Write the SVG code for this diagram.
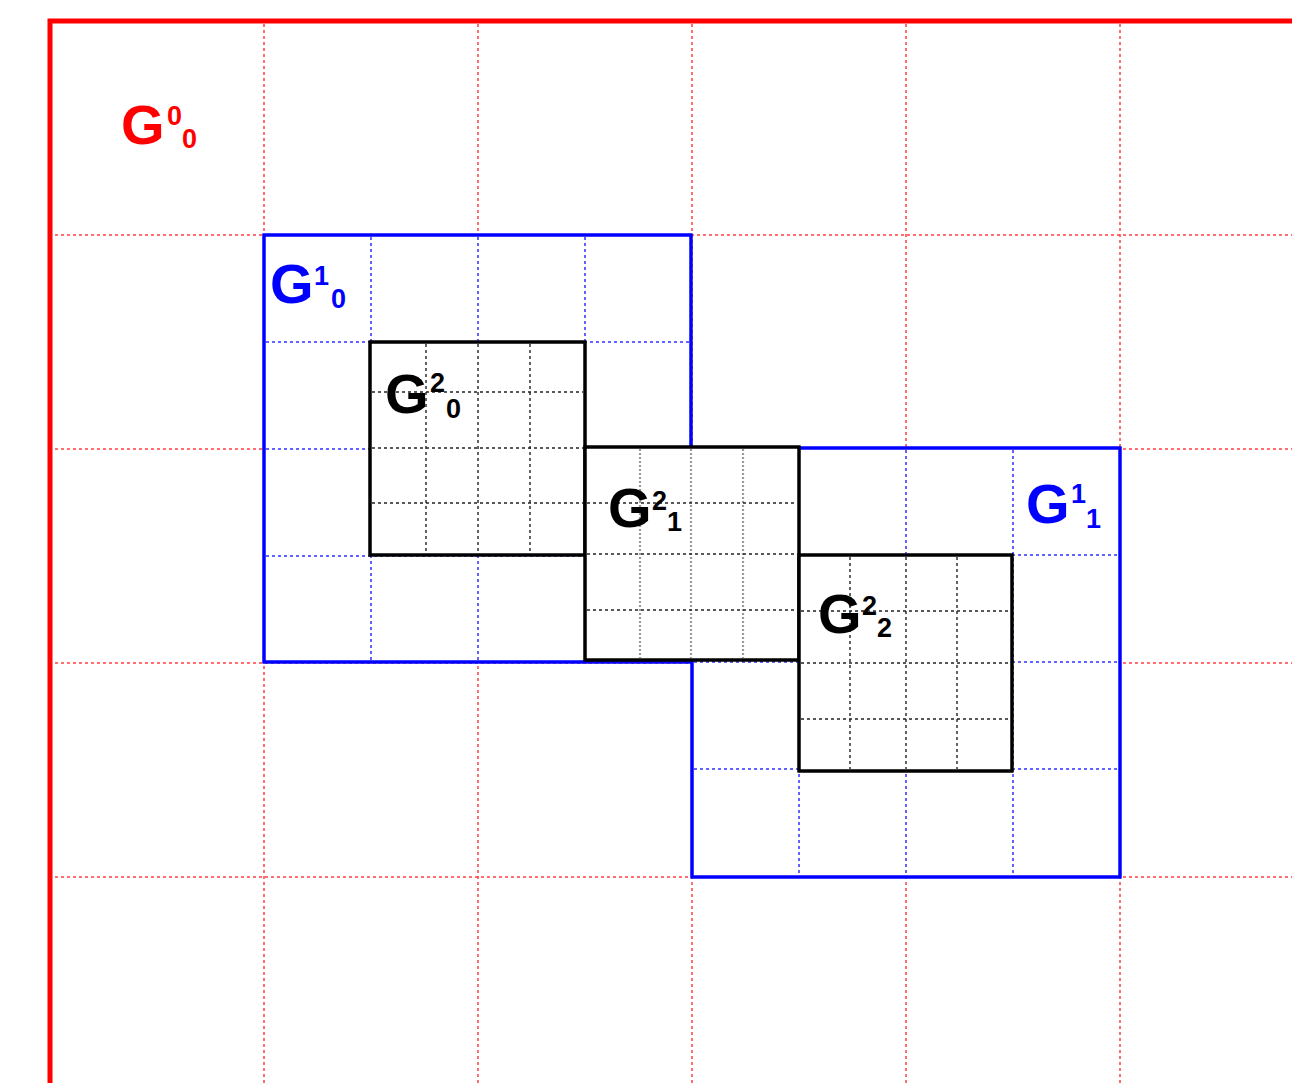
<svg xmlns="http://www.w3.org/2000/svg" width="1292" height="1083" viewBox="0 0 1292 1083">
<style>
.rg{stroke:#ff4040;stroke-width:1.5;stroke-dasharray:3 3;fill:none}
.bg{stroke:#3030ff;stroke-width:1.5;stroke-dasharray:3 3;fill:none}
.kg{stroke:#222;stroke-width:1.4;stroke-dasharray:3 3;fill:none}
.kg2{stroke:#999;stroke-width:2.2;stroke-dasharray:2 2;fill:none}
.b1{stroke:#0000ff;stroke-width:3;fill:#fff}
.k2{stroke:#000;stroke-width:3;fill:#fff}
.G{font-family:"Liberation Sans",Arial,sans-serif;font-weight:bold;font-size:56px}
.s{font-family:"Liberation Sans",Arial,sans-serif;font-weight:bold;font-size:27px}
.red{fill:#ff0000}.blue{fill:#0000ff}.blk{fill:#000}
</style>
<rect width="1292" height="1083" fill="#fff"/>
<g id="G0_0">
<g class="rg">
<line x1="264" y1="24" x2="264" y2="1083"/>
<line x1="478" y1="24" x2="478" y2="1083"/>
<line x1="692" y1="24" x2="692" y2="1083"/>
<line x1="906" y1="24" x2="906" y2="1083"/>
<line x1="1120" y1="24" x2="1120" y2="1083"/>
<line x1="55" y1="235" x2="1292" y2="235"/>
<line x1="55" y1="449" x2="1292" y2="449"/>
<line x1="55" y1="663" x2="1292" y2="663"/>
<line x1="55" y1="877" x2="1292" y2="877"/>
</g>
<path d="M50,1083 V21 H1292" stroke="#ff0000" stroke-width="5" fill="none"/>
<text class="G red" x="121" y="144">G</text>
<text class="s red" x="167" y="125">0</text>
<text class="s red" x="182" y="148">0</text>
</g>
<g id="G1_0">
<rect class="b1" x="264" y="235" width="427" height="427"/>
<g class="bg">
<line x1="371" y1="237" x2="371" y2="660"/>
<line x1="478" y1="237" x2="478" y2="660"/>
<line x1="585" y1="237" x2="585" y2="660"/>
<line x1="266" y1="342" x2="689" y2="342"/>
<line x1="266" y1="449" x2="689" y2="449"/>
<line x1="266" y1="556" x2="689" y2="556"/>
</g>
<rect x="264" y="235" width="427" height="427" fill="none" stroke="#0000ff" stroke-width="3"/>
<text class="G blue" x="270" y="303">G</text>
<text class="s blue" x="314" y="285">1</text>
<text class="s blue" x="331" y="308">0</text>
</g>
<g id="G1_1">
<rect class="b1" x="692" y="448" width="428" height="429"/>
<g class="bg">
<line x1="799" y1="450" x2="799" y2="875"/>
<line x1="906" y1="450" x2="906" y2="875"/>
<line x1="1013" y1="450" x2="1013" y2="875"/>
<line x1="694" y1="555" x2="1118" y2="555"/>
<line x1="694" y1="662" x2="1118" y2="662"/>
<line x1="694" y1="769" x2="1118" y2="769"/>
</g>
<rect x="692" y="448" width="428" height="429" fill="none" stroke="#0000ff" stroke-width="3"/>
<text class="G blue" x="1026" y="523">G</text>
<text class="s blue" x="1071" y="503">1</text>
<text class="s blue" x="1086" y="528">1</text>
</g>
<g id="G2_0">
<rect class="k2" x="370" y="342" width="215" height="213"/>
<g class="kg">
<line x1="426" y1="344" x2="426" y2="553"/>
<line x1="478" y1="344" x2="478" y2="553"/>
<line x1="530" y1="344" x2="530" y2="553"/>
<line x1="372" y1="392" x2="583" y2="392"/>
<line x1="372" y1="448" x2="583" y2="448"/>
<line x1="372" y1="503" x2="583" y2="503"/>
</g>
<rect x="370" y="342" width="215" height="213" fill="none" stroke="#000" stroke-width="3"/>
<text class="G blk" x="385" y="413">G</text>
<text class="s blk" x="430" y="392">2</text>
<text class="s blk" x="446" y="418">0</text>
</g>
<g id="G2_1">
<rect class="k2" x="585" y="447" width="214" height="213"/>
<g class="kg2">
<line x1="640" y1="449" x2="640" y2="658"/>
<line x1="691" y1="449" x2="691" y2="658"/>
<line x1="743" y1="449" x2="743" y2="658"/>
</g>
<g class="kg">
<line x1="587" y1="503" x2="797" y2="503"/>
<line x1="587" y1="554" x2="797" y2="554"/>
<line x1="587" y1="610" x2="797" y2="610"/>
</g>
<rect x="585" y="447" width="214" height="213" fill="none" stroke="#000" stroke-width="3"/>
<text class="G blk" x="608" y="527">G</text>
<text class="s blk" x="652" y="510">2</text>
<text class="s blk" x="667" y="531">1</text>
</g>
<g id="G2_2">
<rect class="k2" x="799" y="555" width="213" height="216"/>
<g class="kg">
<line x1="850" y1="557" x2="850" y2="769"/>
<line x1="906" y1="557" x2="906" y2="769"/>
<line x1="957" y1="557" x2="957" y2="769"/>
<line x1="801" y1="611" x2="1010" y2="611"/>
<line x1="801" y1="663" x2="1010" y2="663"/>
<line x1="801" y1="719" x2="1010" y2="719"/>
</g>
<rect x="799" y="555" width="213" height="216" fill="none" stroke="#000" stroke-width="3"/>
<text class="G blk" x="818" y="633">G</text>
<text class="s blk" x="862" y="615">2</text>
<text class="s blk" x="877" y="637">2</text>
</g>
<g id="connectors"/>
</svg>
